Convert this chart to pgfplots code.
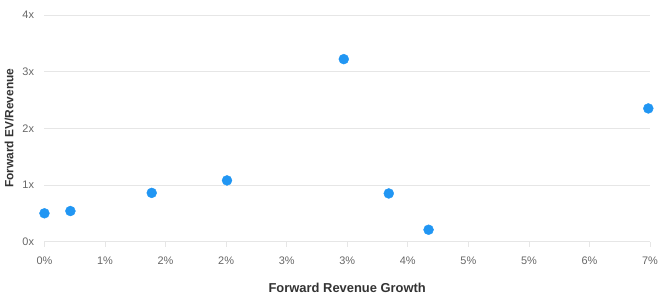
\documentclass[border=0pt]{standalone}
\usepackage{fontspec}
\setmainfont{Liberation Sans}
\usepackage{pgfplots}
\pgfplotsset{compat=1.18}
\definecolor{dotblue}{HTML}{2196F3}
\definecolor{gridgray}{HTML}{E6E6E6}
\definecolor{ticklab}{HTML}{666666}
\definecolor{titlecol}{HTML}{333333}
\begin{document}
\begin{tikzpicture}
\useasboundingbox (-44.7pt,-54.3pt) rectangle (617pt,243pt);
\begin{axis}[
  scale only axis,
  width=609pt, height=228pt,
  xmin=0, xmax=7, ymin=0, ymax=4,
  axis line style={draw=none},
  axis x line*=bottom,
  x axis line style={draw=gridgray, line width=0.8pt},
  ytick={0,1,2,3,4},
  yticklabels={0x,1x,2x,3x,4x},
  xtick={0,0.7,1.4,2.1,2.8,3.5,4.2,4.9,5.6,6.3,7.0},
  xticklabels={0\%,1\%,2\%,2\%,3\%,3\%,4\%,5\%,5\%,6\%,7\%},
  ymajorgrids,
  grid style={draw=gridgray, line width=0.8pt},
  major y tick style={draw=none},
  major x tick style={draw=gridgray, line width=0.8pt},
  tick align=outside,
  major tick length=5pt,
  xtick pos=bottom,
  tick label style={font=\fontsize{11pt}{13pt}\selectfont, text=ticklab},
  xticklabel style={yshift=-7pt},
  yticklabel style={xshift=-2pt},
  xlabel={\textbf{Forward Revenue Growth}},
  ylabel={\textbf{Forward EV/Revenue}},
  xlabel style={font=\fontsize{13pt}{15pt}\selectfont, text=titlecol, yshift=-12pt},
  ylabel style={font=\fontsize{12pt}{14pt}\selectfont, text=titlecol, yshift=2pt},
  clip=false,
]
\addplot[only marks, mark=*, mark size=5pt, color=dotblue, mark options={draw=dotblue, fill=dotblue}]
coordinates {
(0.00,0.50)
(0.30,0.54)
(1.24,0.86)
(2.11,1.08)
(3.46,3.22)
(3.98,0.85)
(4.44,0.21)
(6.98,2.35)
};
\end{axis}
\end{tikzpicture}
\end{document}
